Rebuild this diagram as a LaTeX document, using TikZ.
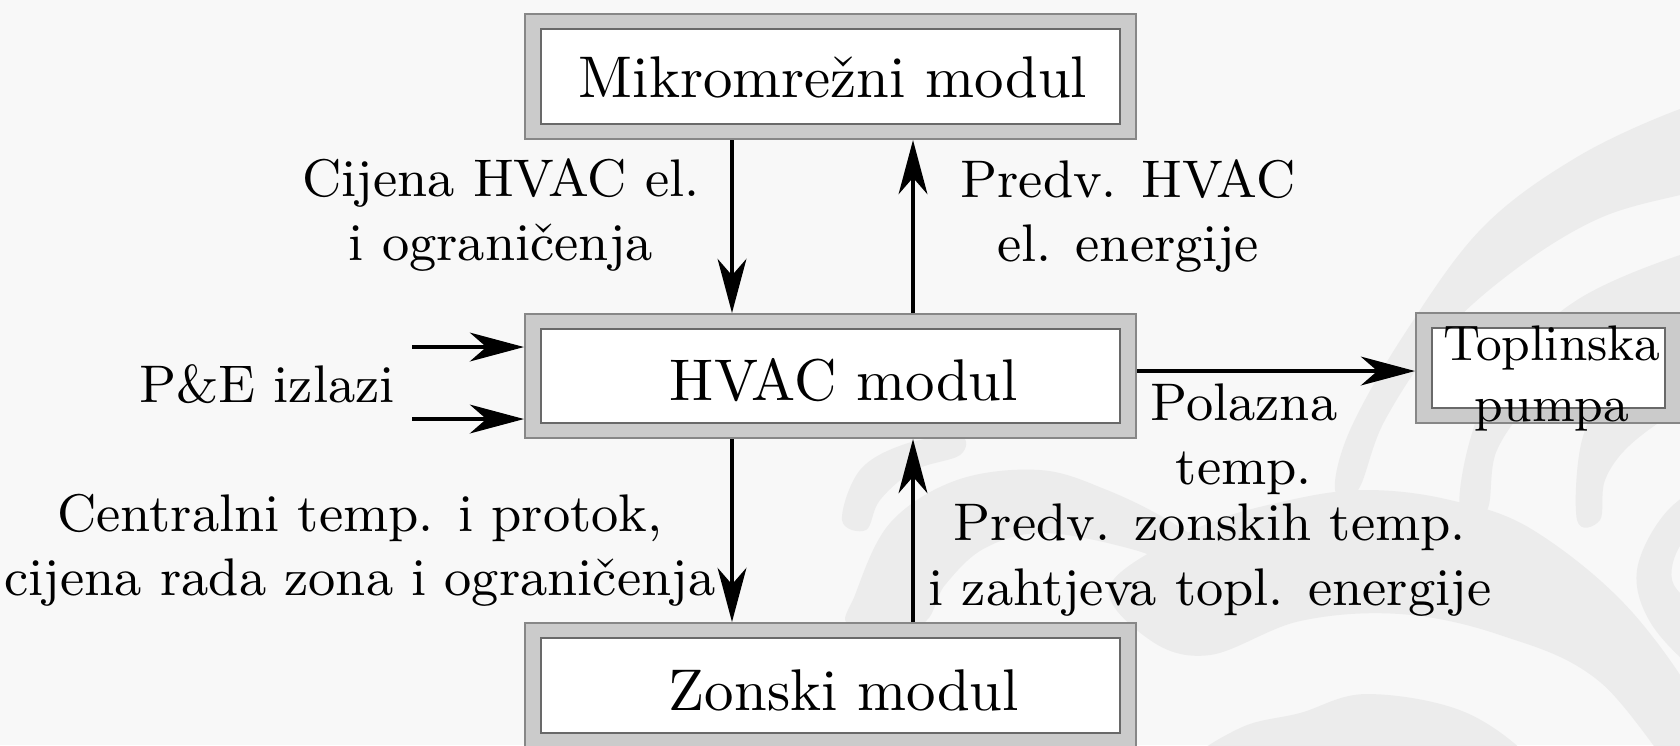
\documentclass[tikz,border=0pt]{standalone}
\usetikzlibrary{arrows.meta}

\definecolor{pagebg}{RGB}{248,248,248}
\definecolor{swirl}{RGB}{236,236,236}
\definecolor{bandgray}{RGB}{203,203,203}
\definecolor{rimgray}{RGB}{135,135,135}
\definecolor{innergray}{RGB}{105,105,105}

\begin{document}
\begin{tikzpicture}[x=0.17pt, y=-0.17pt,
  modbox/.style={draw=rimgray, fill=bandgray, line width=0.35pt, inner sep=0pt,
    path picture={\draw[innergray, fill=white, line width=0.35pt]
      ([shift={(2.72pt,-2.6pt)}]path picture bounding box.north west) rectangle
      ([shift={(-2.72pt,2.6pt)}]path picture bounding box.south east);}},
  boxtext/.style={font=\fontsize{10}{12}\selectfont, inner sep=0pt},
  heattext/.style={font=\fontsize{8.5}{10.5}\selectfont, align=center, inner sep=0pt},
  lbl/.style={font=\fontsize{9}{10.9}\selectfont, align=center, inner sep=0pt},
  flow/.style={line width=0.6pt, -{Stealth[length=9.2pt, width=4.9pt, inset=2.8pt]}},
  wave/.style={fill=swirl}]

% page and backdrop swirl
\useasboundingbox (0,0) rectangle (1680,745);
\fill[pagebg] (0,0) rectangle (1680,745);

\fill[wave] plot[smooth cycle, tension=0.6] coordinates {
  (1335,490) (1350,430) (1405,333) (1482,228) (1577,157) (1680,109) (1720,104)
  (1720,188) (1680,195) (1600,218) (1520,266) (1444,333) (1385,420) (1358,490)};
\fill[wave] plot[smooth cycle, tension=0.6] coordinates {
  (1460,510) (1470,440) (1501,370) (1577,300) (1680,255) (1720,252)
  (1720,316) (1680,322) (1610,345) (1539,395) (1497,450) (1487,510)};
\fill[wave] plot[smooth cycle, tension=0.6] coordinates {
  (1577,520) (1582,440) (1612,390) (1680,350) (1720,345)
  (1720,400) (1680,410) (1630,445) (1605,480) (1600,520)};
\fill[wave] plot[smooth cycle, tension=0.6] coordinates {
  (1720,480) (1668,510) (1637,570) (1652,625) (1700,670)
  (1700,618) (1672,580) (1684,540) (1720,520)};
\fill[wave] plot[smooth cycle, tension=0.6] coordinates {
  (1110,585) (1200,527) (1290,500) (1367,490) (1450,500) (1533,530) (1633,613) (1710,730)
  (1700,800) (1600,682) (1500,635) (1400,614) (1300,621) (1210,655) (1150,640)};
\fill[wave] plot[smooth cycle, tension=0.6] coordinates {
  (1180,770) (1240,728) (1300,713) (1367,694) (1467,713) (1540,770) (1540,820) (1180,820)};
\fill[wave] plot[smooth cycle, tension=0.6] coordinates {
  (850,625) (855,595) (890,523) (957,480) (1040,470) (1107,490) (1173,523) (1230,565)
  (1222,585) (1185,572) (1135,550) (1045,533) (985,548) (945,585) (920,625)};
\fill[wave] plot[smooth cycle, tension=0.6] coordinates {
  (842,520) (860,470) (905,444) (960,436) (960,455) (915,470) (880,500) (866,530)};

% modules
\node[modbox, minimum width={611*0.17pt}, minimum height={125*0.17pt}] (mikro) at (830.5,76.5) {};
\node[modbox, minimum width={611*0.17pt}, minimum height={124*0.17pt}] (hvac) at (830.5,376) {};
\node[modbox, minimum width={611*0.17pt}, minimum height={125*0.17pt}] (zone) at (830.5,685.5) {};
\node[modbox, minimum width={265*0.17pt}, minimum height={110*0.17pt}] (heat) at (1548.5,368) {};

\node[boxtext] (mikroT) at (833,77) {Mikromrežni modul};
\node[boxtext] (hvacT) at (844,380) {HVAC modul};
\node[boxtext] (zoneT) at (844,690) {Zonski modul};
\node[heattext] (heatT) at (1552,378.5) {Toplinska\\pumpa};

% signal paths
\coordinate (xl) at (732,0);
\coordinate (xr) at (913,0);
\coordinate (pe1) at (412,347);
\coordinate (pe2) at (412,419);
\coordinate (ht) at (0,371);

\draw[flow] (mikro.south -| xl) -- (hvac.north -| xl);
\draw[flow] (hvac.north -| xr) -- (mikro.south -| xr);
\draw[flow] (hvac.south -| xl) -- (zone.north -| xl);
\draw[flow] (zone.north -| xr) -- (hvac.south -| xr);
\draw[flow] (pe1) -- (pe1 -| hvac.west);
\draw[flow] (pe2) -- (pe2 -| hvac.west);
\draw[flow] (ht -| hvac.east) -- (ht -| heat.west);

% labels
\node[lbl] (lprice) at (501,215) {Cijena HVAC el.\\i ograničenja};
\node[lbl] (lpred) at (1128,216) {Predv. HVAC\\el. energije};
\node[lbl] (lpe) at (267,384) {P\&E izlazi};
\node[lbl] (lsupply) at (1244,439) {Polazna\\temp.};
\node[lbl] (lcentral) at (360,550) {Centralni temp. i protok,\\cijena rada zona i ograničenja};
\node[lbl] (lzone) at (1210,560) {Predv. zonskih temp.\\i zahtjeva topl. energije};
\end{tikzpicture}
\end{document}
